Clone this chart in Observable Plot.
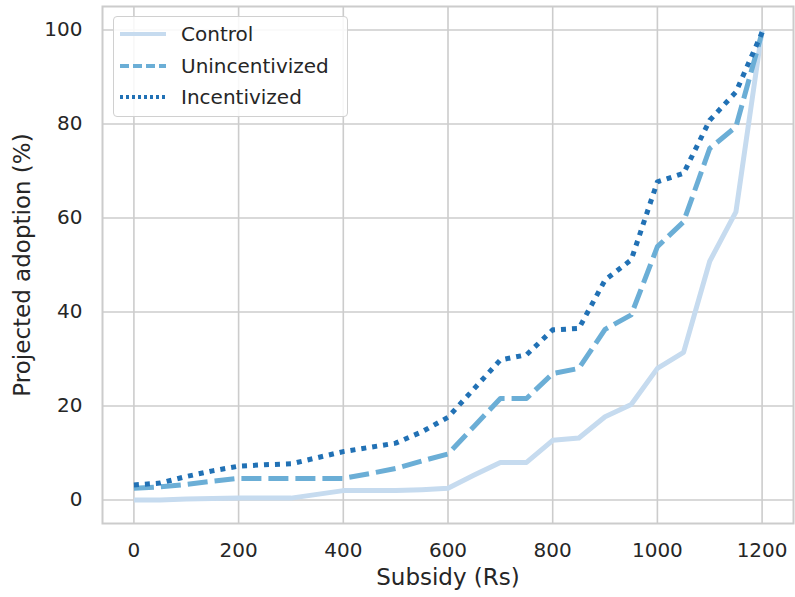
<!DOCTYPE html>
<html>
<head>
<meta charset="utf-8">
<script src="https://cdn.jsdelivr.net/npm/d3@7"></script>
<script src="https://cdn.jsdelivr.net/npm/@observablehq/plot@0.6"></script>
<style>
  html, body { margin: 0; padding: 0; background: #fff; }
  #wrap { position: relative; width: 795px; height: 597px; font-family: "DejaVu Sans", sans-serif; }
  #legend { position: absolute; left: 113px; top: 16px; width: 235px; height: 101px;
    border: 1.3px solid #d0d0d0; border-radius: 4px; background: rgba(255,255,255,0.85); box-sizing: border-box; }
  .row { position: absolute; left: 0; height: 30px; display: flex; align-items: center; }
  .row svg { margin-left: 6px; }
  .row span { margin-left: 15px; font-size: 20px; color: #262626; }
</style>
</head>
<body>
<div id="wrap"></div>
<script>
const subsidy = [0,50,100,150,200,250,300,350,400,450,500,550,600,650,700,750,800,850,900,950,1000,1050,1100,1150,1200];
const control = [0,0,0.2,0.3,0.4,0.4,0.4,1.2,2.0,2.0,2.0,2.2,2.5,5.3,8.0,8.0,12.7,13.2,17.7,20.3,28.0,31.4,50.8,61.3,100];
const unincentivized = [2.5,2.8,3.3,4.0,4.6,4.6,4.6,4.6,4.6,5.6,6.7,8.3,9.8,15.7,21.6,21.6,26.9,28.0,36.3,39.4,53.9,59.2,74.8,79.4,99.5];
const incentivized = [3.2,3.6,5.0,6.2,7.2,7.5,7.7,9.0,10.3,11.2,12.1,14.5,17.6,23.7,29.8,30.9,36.2,36.5,46.8,51.1,67.7,69.5,80.8,86.8,99.5];
const xTicks = [0,200,400,600,800,1000,1200];
const yTicks = [0,20,40,60,80,100];
const seriesNames = ["Control","Unincentivized","Incentivized"];
const seriesColors = ["#c6dbef","#6baed6","#2171b5"];
const seriesDash = [null, "20,7", "5,6"];

const seriesValues = [control, unincentivized, incentivized];
const rows = (vals) => subsidy.map((x, i) => ({x, y: vals[i]}));

const lineMarks = seriesValues.map((vals, k) => Plot.line(rows(vals), {
  x: "x", y: "y", stroke: seriesColors[k], strokeWidth: 5,
  strokeDasharray: seriesDash[k] || undefined, strokeLinecap: "butt", strokeLinejoin: "round"
}));

const chart = Plot.plot({
  width: 795, height: 597,
  marginLeft: 102, marginRight: 2, marginTop: 6, marginBottom: 74,
  style: {fontFamily: "DejaVu Sans, sans-serif", background: "#fff", color: "#262626"},
  x: {domain: [-60, 1260]},
  y: {domain: [-5, 105]},
  marks: [
    Plot.ruleX(xTicks, {stroke: "#cccccc", strokeWidth: 1.6}),
    Plot.ruleY(yTicks, {stroke: "#cccccc", strokeWidth: 1.6}),
    Plot.frame({stroke: "#cccccc", strokeWidth: 2}),
    ...lineMarks,
    Plot.axisX(xTicks, {tickSize: 0, tickPadding: 19, fontSize: 20, fill: "#262626", label: null, tickFormat: d => String(d)}),
    Plot.axisY(yTicks, {tickSize: 0, tickPadding: 20, fontSize: 20, fill: "#262626", label: null, tickFormat: d => String(d)}),
    Plot.text(["Subsidy (Rs)"], {frameAnchor: "bottom", dy: 61, fontSize: 23, fill: "#262626", textAnchor: "middle"}),
    Plot.text(["Projected adoption (%)"], {frameAnchor: "left", dx: -80, rotate: -90, fontSize: 23, fill: "#262626", textAnchor: "middle"})
  ]
});

const wrap = document.getElementById("wrap");
wrap.appendChild(chart);
const legend = document.createElement("div");
legend.id = "legend";
seriesNames.forEach((name, k) => {
  const row = document.createElement("div");
  row.className = "row";
  row.style.top = (2 + k * 31.5) + "px";
  const dash = seriesDash[k] ? `stroke-dasharray="${k === 1 ? '9,4' : '3,3'}"` : "";
  row.innerHTML = `<svg width="46" height="10"><line x1="0" y1="5" x2="46" y2="5" stroke="${seriesColors[k]}" stroke-width="4" ${dash}/></svg><span>${name}</span>`;
  legend.appendChild(row);
});
wrap.appendChild(legend);
</script>
</body>
</html>
